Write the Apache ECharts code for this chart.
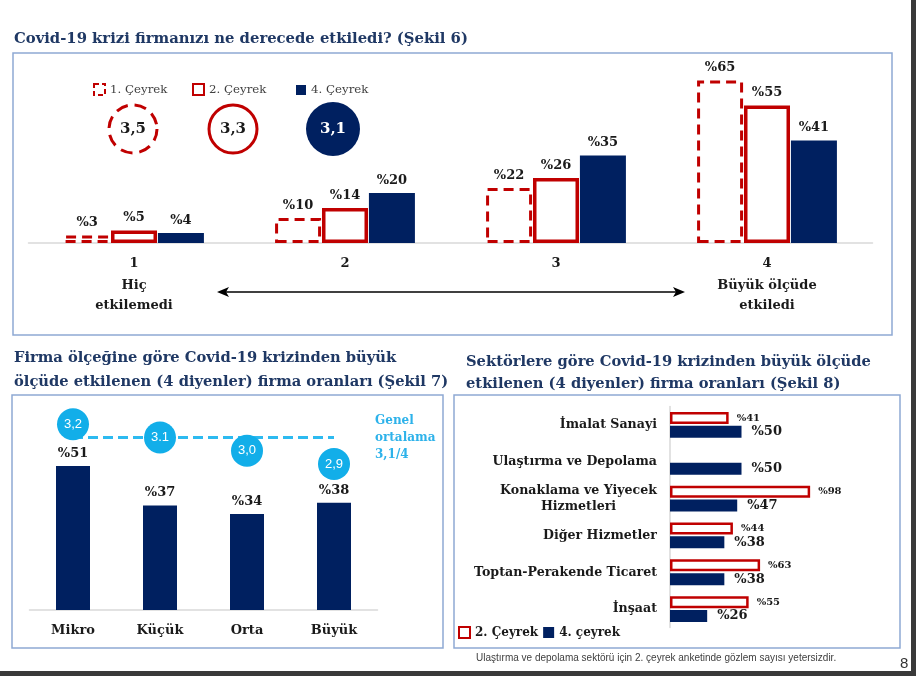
<!DOCTYPE html>
<html>
<head>
<meta charset="utf-8">
<script src="https://cdn.jsdelivr.net/npm/echarts@6/dist/echarts.min.js"></script>
<style>html,body{margin:0;padding:0;background:#fff}#c{width:916px;height:676px}</style>
</head>
<body>
<div id="c"></div>
<script>
// ---- Şekil 6 ----
const levels = ['1', '2', '3', '4'];
const levelNotes = ['Hiç\netkilemedi', '', '', 'Büyük ölçüde\netkiledi'];
const q1Share = [3, 10, 22, 65];
const q2Share = [5, 14, 26, 55];
const q4Share = [4, 20, 35, 41];
const quarterNames = ['1. Çeyrek', '2. Çeyrek', '4. Çeyrek'];
const quarterAvg = [3.5, 3.3, 3.1];

// ---- Şekil 7 ----
const sizes = ['Mikro', 'Küçük', 'Orta', 'Büyük'];
const sizeShare = [51, 37, 34, 38];
const sizeAvg = [3.2, 3.1, 3.0, 2.9];
const sizeAvgLabels = ['3,2', '3.1', '3,0', '2,9'];
const generalAvg = 3.1;

// ---- Şekil 8 ----
const sectors = ['İmalat Sanayi', 'Ulaştırma ve Depolama', 'Konaklama ve Yiyecek\nHizmetleri', 'Diğer Hizmetler', 'Toptan-Perakende Ticaret', 'İnşaat'];
const sectorQ2 = [41, null, 98, 44, 63, 55];
const sectorQ4 = [50, 50, 47, 38, 38, 26];

const SERIF = 'DejaVu Serif';
const NAVY = '#002060';
const RED = '#C00000';
const TITLE = '#1F3864';
const TXT = '#1a1a1a';
const LBLUE = '#12AEE9';
const BOX = '#8EA9D4';

const pct = p => (p.value == null ? '' : '%' + p.value);
const valLabel = (size, dist) => ({show: true, position: 'top', distance: dist, formatter: pct,
  fontFamily: SERIF, fontWeight: 'bold', fontSize: size, color: TXT});

const chart = echarts.init(document.getElementById('c'), null, {renderer: 'canvas'});

const option = {
  backgroundColor: '#fff',
  animation: false,
  title: [
    {text: 'Covid-19 krizi firmanızı ne derecede etkiledi? (Şekil 6)', left: 14, top: 32, padding: 0,
     textStyle: {fontFamily: SERIF, fontWeight: 'bold', fontSize: 14.8, color: TITLE}},
    {text: 'Firma ölçeğine göre Covid-19 krizinden büyük\nölçüde etkilenen (4 diyenler) firma oranları (Şekil 7)', left: 14, top: 346, padding: 0,
     textStyle: {fontFamily: SERIF, fontWeight: 'bold', fontSize: 14.7, color: TITLE, lineHeight: 24}},
    {text: 'Sektörlere göre Covid-19 krizinden büyük ölçüde\netkilenen (4 diyenler) firma oranları (Şekil 8)', left: 466, top: 351, padding: 0,
     textStyle: {fontFamily: SERIF, fontWeight: 'bold', fontSize: 14.7, color: TITLE, lineHeight: 22}}
  ],
  legend: [
    {data: ['1. Çeyrek'], left: 93, top: 83, padding: 0, icon: 'rect', itemWidth: 11, itemHeight: 11,
     itemStyle: {borderType: [5, 3]}, textStyle: {fontFamily: SERIF, fontSize: 11.8, color: '#404040'}},
    {data: ['2. Çeyrek'], left: 192, top: 83, padding: 0, icon: 'rect', itemWidth: 11, itemHeight: 11,
     textStyle: {fontFamily: SERIF, fontSize: 11.8, color: '#404040'}},
    {data: ['4. Çeyrek'], left: 296, top: 84, padding: 0, icon: 'rect', itemWidth: 10, itemHeight: 10,
     textStyle: {fontFamily: SERIF, fontSize: 11.8, color: '#404040'}},
    {data: ['2. Çeyrek', '4. çeyrek'], left: 458, top: 626, padding: 0, icon: 'rect', itemWidth: 11, itemHeight: 11, itemGap: 5,
     textStyle: {fontFamily: SERIF, fontWeight: 'bold', fontSize: 12, color: TXT}}
  ],
  grid: [
    {left: 28.5, right: 43.5, top: 68, bottom: 433},
    {left: 83, right: 533, top: 104, bottom: 522},
    {left: 29.5, right: 538.5, top: 412.3, bottom: 66},
    {left: 670, right: 103, top: 406.5, bottom: 48.5}
  ],
  xAxis: [
    {gridIndex: 0, type: 'category', data: levels,
     axisLine: {lineStyle: {color: '#D9D9D9', width: 1.5}}, axisTick: {show: false},
     axisLabel: {margin: 9.5, interval: 0,
       formatter: (v, i) => '{n|' + v + '}' + (levelNotes[i] ? '\n' + levelNotes[i].split('\n').map(s => '{t|' + s + '}').join('\n') : ''),
       rich: {n: {fontFamily: SERIF, fontWeight: 'bold', fontSize: 13, color: TXT, lineHeight: 23},
              t: {fontFamily: SERIF, fontWeight: 'bold', fontSize: 13, color: TXT, lineHeight: 20}}}},
    {gridIndex: 1, type: 'category', data: quarterNames, show: false},
    {gridIndex: 2, type: 'category', data: sizes,
     axisLine: {lineStyle: {color: '#D9D9D9', width: 1.5}}, axisTick: {show: false},
     axisLabel: {margin: 14, interval: 0, fontFamily: SERIF, fontWeight: 'bold', fontSize: 13, color: TXT}},
    {gridIndex: 3, type: 'value', min: 0, max: 100, show: false}
  ],
  yAxis: [
    {gridIndex: 0, type: 'value', min: 0, max: 70, show: false},
    {gridIndex: 1, type: 'category', data: ['ort'], show: false},
    {gridIndex: 2, type: 'value', min: 0, max: 70, show: false},
    {gridIndex: 2, type: 'value', min: 1.8, max: 3.29, show: false},
    {gridIndex: 3, type: 'category', data: sectors, inverse: true,
     axisLine: {lineStyle: {color: '#D9D9D9', width: 1.5}}, axisTick: {show: false},
     axisLabel: {margin: 13, interval: 0,
       formatter: v => v.split('\n').map(s => '{c|' + s + '}').join('\n'),
       rich: {c: {align: 'center', fontFamily: SERIF, fontWeight: 'bold', fontSize: 12.6, color: TXT, lineHeight: 16}}}}
  ],
  series: [
    // Şekil 6 bars
    {name: '1. Çeyrek', type: 'bar', xAxisIndex: 0, yAxisIndex: 0, data: q1Share, barWidth: 46, barGap: '2%',
     itemStyle: {color: '#fff', borderColor: RED, borderWidth: 3, borderType: [10, 6]}, label: valLabel(13, 6)},
    {name: '2. Çeyrek', type: 'bar', xAxisIndex: 0, yAxisIndex: 0, data: q2Share, barWidth: 46, barGap: '2%',
     itemStyle: {color: '#fff', borderColor: RED, borderWidth: 3.5}, label: valLabel(13, 6)},
    {name: '4. Çeyrek', type: 'bar', xAxisIndex: 0, yAxisIndex: 0, data: q4Share, barWidth: 46, barGap: '2%',
     itemStyle: {color: NAVY}, label: valLabel(13, 6)},
    // Şekil 6 averages
    {name: 'Ortalama', type: 'scatter', xAxisIndex: 1, yAxisIndex: 1, z: 5,
     data: quarterAvg.map((v, i) => {
       const styles = [
         {color: '#fff', borderColor: RED, borderWidth: 3, borderType: [12, 7], opacity: 1},
         {color: '#fff', borderColor: RED, borderWidth: 3, opacity: 1},
         {color: NAVY, opacity: 1}
       ];
       return {value: [quarterNames[i], 'ort', v], symbolSize: i === 2 ? 54 : 48, itemStyle: styles[i],
               label: {color: i === 2 ? '#fff' : TXT}};
     }),
     label: {show: true, position: 'inside', formatter: p => String(p.value[2]).replace('.', ','),
             fontFamily: SERIF, fontWeight: 'bold', fontSize: 15}},
    // Şekil 7 bars
    {name: 'Büyük ölçüde etkilenen', type: 'bar', xAxisIndex: 2, yAxisIndex: 2, data: sizeShare, barWidth: 34,
     itemStyle: {color: NAVY}, label: valLabel(13, 6)},
    // Şekil 7 general average line
    {name: 'Genel ortalama', type: 'line', xAxisIndex: 2, yAxisIndex: 3, data: [], z: 1,
     markLine: {silent: true, symbol: 'none',
       lineStyle: {color: '#2DBAF0', width: 3, type: [10, 5]},
       label: {show: true, position: 'end', distance: 41, padding: [4, 0, 0, 0],
               formatter: 'Genel\nortalama\n3,1/4',
               fontFamily: SERIF, fontWeight: 'bold', fontSize: 12, lineHeight: 17, color: '#2DB2EA', align: 'left'},
       data: [[{coord: [sizes[0], generalAvg]}, {coord: [sizes[sizes.length - 1], generalAvg]}]]}},
    // Şekil 7 averages
    {name: 'Ölçek ortalaması', type: 'scatter', xAxisIndex: 2, yAxisIndex: 3, z: 5, symbolSize: 32,
     data: sizeAvg.map((v, i) => [sizes[i], v]),
     itemStyle: {color: LBLUE, opacity: 1},
     label: {show: true, position: 'inside', formatter: p => sizeAvgLabels[p.dataIndex],
             fontFamily: 'Liberation Sans', fontSize: 13, color: '#fff'}},
    // Şekil 8
    {name: '2. Çeyrek', type: 'bar', xAxisIndex: 3, yAxisIndex: 4, data: sectorQ2, barWidth: 12, barGap: '15%',
     itemStyle: {color: '#fff', borderColor: RED, borderWidth: 2.5},
     label: {show: true, position: 'right', distance: 8, formatter: pct,
             fontFamily: SERIF, fontWeight: 'bold', fontSize: 10, color: TXT}},
    {name: '4. çeyrek', type: 'bar', xAxisIndex: 3, yAxisIndex: 4, data: sectorQ4, barWidth: 12, barGap: '15%',
     itemStyle: {color: NAVY},
     label: {show: true, position: 'right', distance: 10, formatter: pct,
             fontFamily: SERIF, fontWeight: 'bold', fontSize: 13, color: TXT}}
  ],
  graphic: [
    {type: 'rect', shape: {x: 13, y: 53, width: 879, height: 282}, style: {fill: 'none', stroke: BOX, lineWidth: 1.5}, z: -1},
    {type: 'rect', shape: {x: 12, y: 395, width: 431, height: 253}, style: {fill: 'none', stroke: BOX, lineWidth: 1.5}, z: -1},
    {type: 'rect', shape: {x: 454, y: 395, width: 446, height: 253}, style: {fill: 'none', stroke: BOX, lineWidth: 1.5}, z: -1},
    {type: 'line', shape: {x1: 222, y1: 292, x2: 680, y2: 292}, style: {stroke: '#000', lineWidth: 1.5}},
    {type: 'polygon', shape: {points: [[217, 292], [229, 287], [226, 292], [229, 297]]}, style: {fill: '#000'}},
    {type: 'polygon', shape: {points: [[685, 292], [673, 287], [676, 292], [673, 297]]}, style: {fill: '#000'}},
    {type: 'text', left: 476, top: 653, style: {text: 'Ulaştırma ve depolama sektörü için 2. çeyrek anketinde gözlem sayısı yetersizdir.',
      fontFamily: 'Liberation Sans', fontSize: 10, fill: '#404040'}},
    {type: 'text', left: 900, top: 656, style: {text: '8', fontFamily: 'Liberation Sans', fontSize: 15, fill: '#333'}},
    {type: 'rect', shape: {x: 911, y: 0, width: 5, height: 676}, style: {fill: '#3a3a3a'}},
    {type: 'rect', shape: {x: 0, y: 671, width: 916, height: 5}, style: {fill: '#3a3a3a'}}
  ]
};
chart.setOption(option);
</script>
</body>
</html>
